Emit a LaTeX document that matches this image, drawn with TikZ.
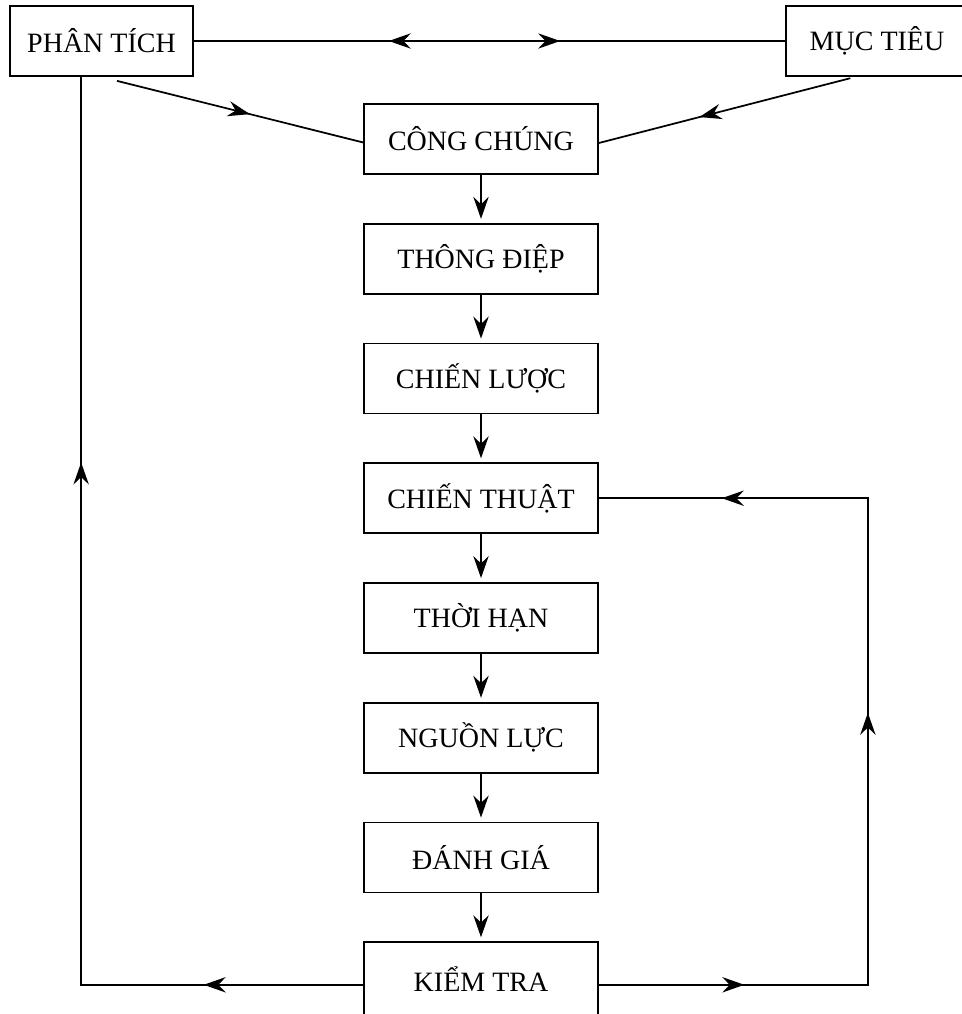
\documentclass[tikz,border=0pt]{standalone}
\usepackage{fontspec}
\setmainfont{Liberation Serif}
\usetikzlibrary{arrows.meta,positioning,decorations.markings}

\begin{document}
\begin{tikzpicture}[x=0.75pt,y=-0.75pt,
  >={Stealth[length=16.5pt,width=11.5pt,inset=5.5pt]},
  line width=1.3pt, node distance=36pt,
  stage/.style={rectangle,draw,minimum width=175.5pt,minimum height=52.5pt,
                inner sep=0pt,font=\fontsize{21}{25}\selectfont},
  corner/.style={stage,minimum width=137pt},
  marks/.style={postaction={decorate},decoration={markings,#1}}]

  \useasboundingbox (0,0) rectangle (962,1014);

    \node[corner] (PHANTICH) at (101.5,41) {PHÂN TÍCH};
    \node[corner] (MUCTIEU) at (877,41) {MỤC TIÊU};
    \node[stage] (CONGCHUNG) at (481,139) {CÔNG CHÚNG};
    \node[stage] (THONGDIEP) [below=of CONGCHUNG] {THÔNG ĐIỆP};
    \node[stage] (CHIENLUOC) [below=of THONGDIEP] {CHIẾN LƯỢC};
    \node[stage] (CHIENTHUAT) [below=of CHIENLUOC] {CHIẾN THUẬT};
    \node[stage] (THOIHAN) [below=of CHIENTHUAT] {THỜI HẠN};
    \node[stage] (NGUONLUC) [below=of THOIHAN] {NGUỒN LỰC};
    \node[stage] (DANHGIA) [below=of NGUONLUC] {ĐÁNH GIÁ};
    \node[stage,minimum height=56pt] (KIEMTRA) [below=of DANHGIA] {KIỂM TRA};
    % corners of the feedback loops
    \coordinate (outL) at ([yshift=-4pt]KIEMTRA.west);
    \coordinate (outR) at ([yshift=-4pt]KIEMTRA.east);
    \path (outL) ++(-282,0) coordinate (loopL);
    \path (CHIENTHUAT.east) ++(269,0) coordinate (loopR);

    \draw[marks={mark=at position 0.33 with {\arrowreversed{>}},
                 mark=at position 0.62 with {\arrow{>}}}]
      (PHANTICH) -- (MUCTIEU);
    \draw[marks={mark=at position 0.54 with {\arrow{>}}}]
      ([xshift=11.6pt,yshift=-3pt]PHANTICH.south) -- ([yshift=-2.6pt]CONGCHUNG.west);
    \draw[marks={mark=at position 0.6 with {\arrow{>}}}]
      ([xshift=-20pt,yshift=-1pt]MUCTIEU.south) -- ([yshift=-3pt]CONGCHUNG.east);

    \foreach \a/\b in {CONGCHUNG/THONGDIEP,THONGDIEP/CHIENLUOC,CHIENLUOC/CHIENTHUAT,
                       CHIENTHUAT/THOIHAN,THOIHAN/NGUONLUC,NGUONLUC/DANHGIA,DANHGIA/KIEMTRA}
      \draw[->,shorten >=3pt] (\a) -- (\b);

    \draw[marks={mark=at position 0.134 with {\arrow{>}},
                 mark=at position 0.676 with {\arrow{>}}}]
      (outL) -- (loopL) -- (loopL |- PHANTICH.south);
    \draw[marks={mark=at position 0.142 with {\arrow{>}},
                 mark=at position 0.528 with {\arrow{>}},
                 mark=at position 0.88 with {\arrow{>}}}]
      (outR) -| (loopR) -- (CHIENTHUAT.east);

\end{tikzpicture}
\end{document}
